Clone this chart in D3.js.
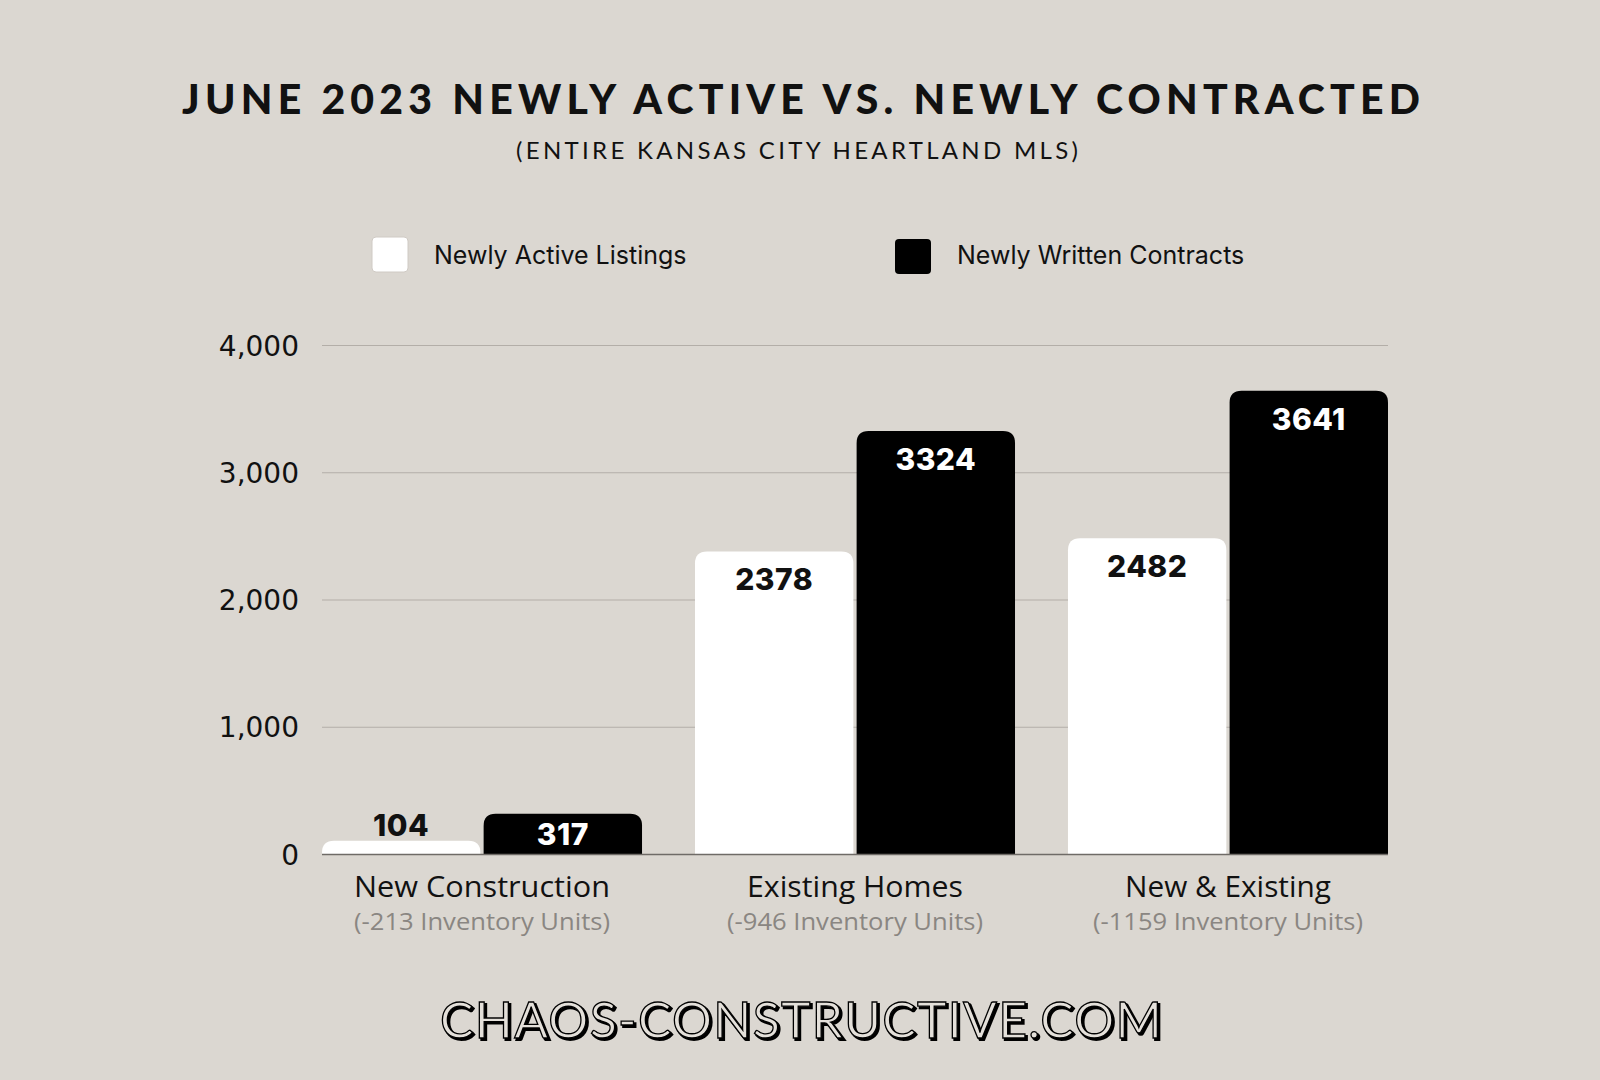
<!DOCTYPE html>
<html>
<head>
<meta charset="utf-8">
<script src="https://cdn.jsdelivr.net/npm/d3@7"></script>
<style>
  body { margin: 0; background: #dbd7d1; }
  svg { display: block; }
</style>
</head>
<body>
<div id="chart"></div>
<script>
// Chart data
const categories = ['New Construction', 'Existing Homes', 'New & Existing'];
const subLabels = ['(-213 Inventory Units)', '(-946 Inventory Units)', '(-1159 Inventory Units)'];
const seriesNames = ['Newly Active Listings', 'Newly Written Contracts'];
const activeListings = [104, 2378, 2482];
const writtenContracts = [317, 3324, 3641];
const yTicks = [0, 1000, 2000, 3000, 4000];

const W = 1600, H = 1080;
const bg = '#dbd7d1';

const svg = d3.select('#chart').append('svg')
  .attr('width', W).attr('height', H);

svg.append('rect').attr('width', W).attr('height', H).attr('fill', bg);

// Title
svg.append('text')
  .attr('x', 801).attr('y', 114)
  .attr('text-anchor', 'middle')
  .attr('font-family', 'Lato, sans-serif')
  .attr('font-weight', 900)
  .attr('font-size', 41)
  .attr('textLength', 1238)
  .attr('lengthAdjust', 'spacing')
  .attr('fill', '#111')
  .text('JUNE 2023 NEWLY ACTIVE VS. NEWLY CONTRACTED');

svg.append('text')
  .attr('x', 797).attr('y', 159)
  .attr('text-anchor', 'middle')
  .attr('font-family', 'Lato, sans-serif')
  .attr('font-size', 24)
  .attr('textLength', 562)
  .attr('lengthAdjust', 'spacing')
  .attr('fill', '#111')
  .text('(ENTIRE KANSAS CITY HEARTLAND MLS)');

// Legend
const colors = ['#ffffff', '#000000'];
const legendX = [372, 895];
seriesNames.forEach((name, i) => {
  const g = svg.append('g').attr('transform', `translate(${legendX[i]},${237 + i * 2})`);
  g.append('rect')
    .attr('width', 36).attr('height', 35).attr('rx', 4)
    .attr('fill', colors[i])
    .attr('stroke', i === 0 ? '#cfcac4' : 'none');
  g.append('text')
    .attr('x', 62).attr('y', 27 - i * 2)
    .attr('font-family', 'Inter, sans-serif')
    .attr('font-size', 25)
    .attr('fill', '#111')
    .text(name);
});

// Scales
const plotLeft = 322, plotRight = 1388, plotTop = 345, plotBottom = 854;

const x0 = d3.scaleBand()
  .domain(categories)
  .range([plotLeft, plotRight])
  .paddingInner(0.142)
  .paddingOuter(0);

const x1 = d3.scaleBand()
  .domain(seriesNames)
  .range([0, x0.bandwidth()])
  .paddingInner(0.02);

const y = d3.scaleLinear().domain([0, 4000]).range([plotBottom, plotTop]);

// Gridlines + tick labels
const yAxis = svg.append('g')
  .attr('transform', `translate(${plotLeft},0)`)
  .call(d3.axisLeft(y).tickValues(yTicks).tickSize(-(plotRight - plotLeft)).tickPadding(23)
    .tickFormat(d3.format(',')));
yAxis.select('.domain').remove();
yAxis.selectAll('.tick line').attr('stroke', '#b3aea8').attr('stroke-width', 1.2);
yAxis.selectAll('.tick text')
  .attr('font-family', '"DejaVu Sans", sans-serif')
  .attr('font-size', 28)
  .attr('fill', '#111')
  .attr('dy', '0.36em');

// Rounded-top bar path
function topRoundedBar(x, yTop, w, h, r) {
  r = Math.min(r, h, w / 2);
  return `M${x},${yTop + h}V${yTop + r}Q${x},${yTop} ${x + r},${yTop}` +
    `H${x + w - r}Q${x + w},${yTop} ${x + w},${yTop + r}V${yTop + h}Z`;
}

const rows = categories.map((c, i) => ({
  category: c,
  sub: subLabels[i],
  values: [
    { series: seriesNames[0], value: activeListings[i], idx: 0 },
    { series: seriesNames[1], value: writtenContracts[i], idx: 1 },
  ],
}));

const groups = svg.selectAll('.group')
  .data(rows)
  .enter().append('g')
  .attr('class', 'group')
  .attr('transform', (d) => `translate(${x0(d.category)},0)`);

groups.selectAll('path')
  .data((d) => d.values)
  .enter().append('path')
  .attr('d', (d) => {
    const yt = y(d.value);
    return topRoundedBar(x1(d.series), yt, x1.bandwidth(), plotBottom - yt, 12);
  })
  .attr('fill', (d) => colors[d.idx]);

// Value labels
groups.selectAll('.val')
  .data((d) => d.values)
  .enter().append('text')
  .attr('class', 'val')
  .attr('x', (d) => x1(d.series) + x1.bandwidth() / 2)
  .attr('y', (d) => {
    const yt = y(d.value);
    const h = plotBottom - yt;
    if (h < 25) return yt - 5;
    if (h < 60) return yt + h / 2 + 11;
    return yt + 39;
  })
  .attr('text-anchor', 'middle')
  .attr('font-family', 'Inter, sans-serif')
  .attr('font-weight', 800)
  .attr('font-size', 30)
  .attr('letter-spacing', 0.5)
  .attr('fill', (d) => {
    const h = plotBottom - y(d.value);
    if (h < 25) return '#111';
    return d.idx === 0 ? '#111' : '#fff';
  })
  .text((d) => d.value);

// Baseline
svg.append('line')
  .attr('x1', plotLeft).attr('x2', plotRight)
  .attr('y1', plotBottom + 0.5).attr('y2', plotBottom + 0.5)
  .attr('stroke', '#6f6b67').attr('stroke-width', 1.5);

// Category labels
groups.append('text')
  .attr('x', x0.bandwidth() / 2)
  .attr('y', 897)
  .attr('text-anchor', 'middle')
  .attr('font-family', '"Open Sans", sans-serif')
  .attr('font-size', 29)
  .attr('textLength', (d, i) => [256, 216, 206][i])
  .attr('lengthAdjust', 'spacingAndGlyphs')
  .attr('fill', '#111')
  .text((d) => d.category);

groups.append('text')
  .attr('x', x0.bandwidth() / 2)
  .attr('y', 930)
  .attr('text-anchor', 'middle')
  .attr('font-family', '"Open Sans", sans-serif')
  .attr('font-size', 24)
  .attr('textLength', (d, i) => [256, 256, 270][i])
  .attr('lengthAdjust', 'spacingAndGlyphs')
  .attr('fill', '#8a8682')
  .text((d) => d.sub);

// Footer (outlined text with shadow)
const footer = 'CHAOS-CONSTRUCTIVE.COM';
svg.append('text')
  .attr('x', 803).attr('y', 1040)
  .attr('text-anchor', 'middle')
  .attr('font-family', 'Lato, sans-serif')
  .attr('font-weight', 400)
  .attr('font-size', 50)
  .attr('textLength', 722)
  .attr('lengthAdjust', 'spacing')
  .attr('fill', '#000')
  .attr('stroke', '#000')
  .attr('stroke-width', 2)
  .text(footer);
svg.append('text')
  .attr('x', 801).attr('y', 1038)
  .attr('text-anchor', 'middle')
  .attr('font-family', 'Lato, sans-serif')
  .attr('font-weight', 400)
  .attr('font-size', 50)
  .attr('textLength', 722)
  .attr('lengthAdjust', 'spacing')
  .attr('fill', '#e4e0da')
  .attr('stroke', '#000')
  .attr('stroke-width', 1.3)
  .text(footer);
</script>
</body>
</html>
